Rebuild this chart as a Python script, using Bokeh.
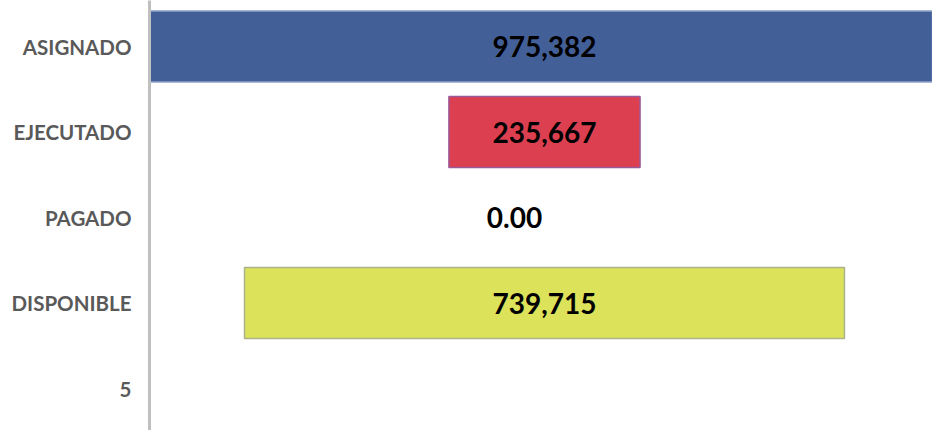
from bokeh.plotting import figure
from bokeh.models import Range1d, FixedTicker, ColumnDataSource
from bokeh.core.properties import value
from bokeh.embed import file_html
from bokeh.resources import INLINE

categories = ["ASIGNADO", "EJECUTADO", "PAGADO", "DISPONIBLE", "5"]
amounts = [975382, 235667, 0, 739715]
bar_colors = ["#435F98", "#DC4050", "#FFFFFF", "#DCE35A"]
bar_edges = ["#8FA3C9", "#9A5A9A", "#FFFFFF", "#AAB38C"]

pos = list(range(len(amounts)))
labels = [f"{v:,}" if v else "0.00" for v in amounts]
label_offsets = [0, 0, -30, 0]

src = ColumnDataSource(dict(
    y=pos,
    left=[-v / 2 for v in amounts],
    right=[v / 2 for v in amounts],
    x=[0] * len(amounts),
    color=bar_colors,
    edge=bar_edges,
    label=labels,
    xo=label_offsets,
))

p = figure(width=932, height=430, output_backend="svg", toolbar_location=None,
           x_range=Range1d(-487000, 478400), y_range=Range1d(4.491, -0.538),
           min_border_left=149, min_border_right=0, min_border_top=0, min_border_bottom=0)

p.hbar(y="y", left="left", right="right", height=0.83, source=src,
       fill_color="color", line_color="edge", line_width=1.5)

p.text(x="x", y="y", text="label", x_offset="xo", source=src,
       text_align="center", text_baseline="middle",
       text_font=value("Lato"), text_font_style="bold", text_font_size="28px",
       text_color="#000000")

p.xaxis.visible = False
p.yaxis.ticker = FixedTicker(ticks=list(range(len(categories))))
p.yaxis.major_label_overrides = {i: c for i, c in enumerate(categories)}
p.yaxis.major_tick_line_color = None
p.yaxis.minor_tick_line_color = None
p.yaxis.axis_line_color = "#BFBFBF"
p.yaxis.axis_line_width = 3
p.yaxis.major_label_text_font = "Lato"
p.yaxis.major_label_text_font_style = "bold"
p.yaxis.major_label_text_font_size = "20.5px"
p.yaxis.major_label_text_color = "#595959"
p.yaxis.major_label_standoff = 12

p.xgrid.visible = False
p.ygrid.visible = False
p.outline_line_color = None

open("out.html", "w").write(file_html(p, INLINE))
